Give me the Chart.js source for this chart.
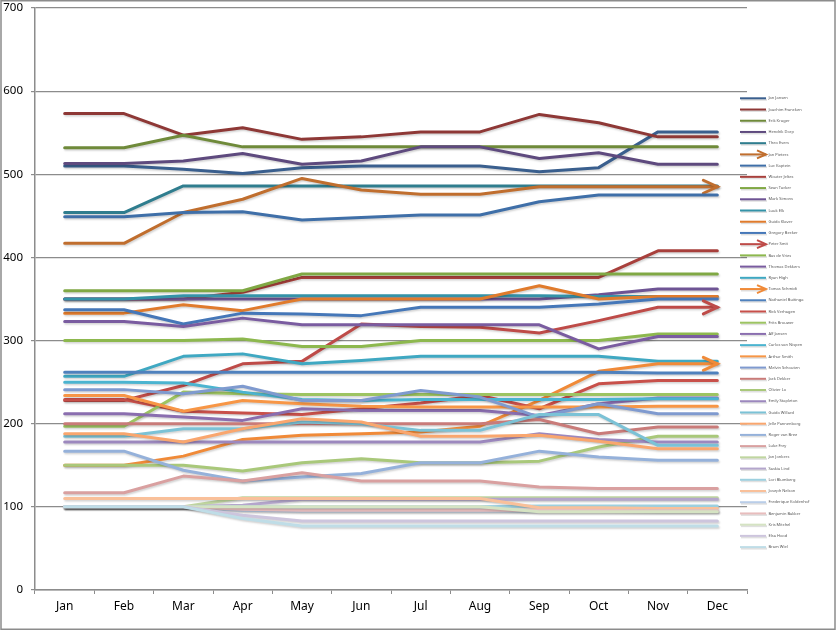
<!DOCTYPE html>
<html>
<head>
<meta charset="utf-8">
<script src="https://cdn.jsdelivr.net/npm/chart.js@4.4.0/dist/chart.umd.min.js"></script>
<style>
  html, body { margin: 0; padding: 0; background: #fff; }
  #chart { display: block; }
</style>
</head>
<body>
<canvas id="chart" width="839" height="631"></canvas>
<script>
// DATA
const months = ["Jan", "Feb", "Mar", "Apr", "May", "Jun", "Jul", "Aug", "Sep", "Oct", "Nov", "Dec"];
const yTicks = [0, 100, 200, 300, 400, 500, 600, 700];

const seriesNames = [
  "Jan Jansen", "Joachim Francken", "Erik Kruger", "Hendrik Dorp", "Theo Evers", "Jan Pieters",
  "Luc Kaptein", "Wouter Jeltes", "Sean Tucker", "Mark Simons", "Luuk Elk", "Guido Klaver",
  "Gregory Becker", "Peter Smit", "Bas de Vries", "Thomas Dekkers", "Ryan High", "Tomas Schmidt",
  "Nathaniel Buitinga", "Rick Verhagen", "Frits Brouwer", "Alf Jansen", "Carlos van Nispen", "Arthur Smith",
  "Melvin Schouten", "Jack Dekker", "Olivier Lo", "Emily Stapleton", "Guido Willard", "Jelle Pannenborg",
  "Roger van Bree", "Luke Frey", "Jan Jonkers", "Saskia Lind", "Lori Blumberg", "Joseph Nelson",
  "Frederique Koldenhof", "Benjamin Bakker", "Kris Mitchel", "Elsa Hood", "Bram Wiel"
];

const s01 = [510, 510, 506, 501, 508, 510, 510, 510, 503, 508, 551, 551];
const s02 = [573, 573, 547, 556, 542, 545, 551, 551, 572, 562, 545, 545];
const s03 = [532, 532, 547, 533, 533, 533, 533, 533, 533, 533, 533, 533];
const s04 = [513, 513, 516, 525, 512, 516, 533, 533, 519, 526, 512, 512];
const s05 = [454, 454, 486, 486, 486, 486, 486, 486, 486, 486, 486, 486];
const s06 = [417, 417, 454, 470, 495, 481, 476, 476, 485, 485, 485, 485];
const s07 = [449, 449, 454, 455, 445, 448, 451, 451, 467, 475, 475, 475];
const s08 = [350, 350, 350, 358, 376, 376, 376, 376, 376, 376, 408, 408];
const s09 = [360, 360, 360, 360, 380, 380, 380, 380, 380, 380, 380, 380];
const s10 = [350, 350, 350, 350, 350, 350, 350, 350, 350, 355, 362, 362];
const s11 = [350, 350, 354, 354, 354, 354, 354, 354, 354, 353, 353, 353];
const s12 = [333, 333, 343, 336, 350, 350, 350, 350, 366, 350, 353, 353];
const s13 = [337, 337, 320, 333, 332, 330, 340, 340, 340, 344, 350, 350];
const s14 = [228, 228, 246, 272, 275, 320, 317, 316, 309, 324, 340, 340];
const s15 = [300, 300, 300, 302, 293, 293, 300, 300, 300, 300, 308, 308];
const s16 = [323, 323, 317, 327, 319, 319, 319, 319, 319, 290, 305, 305];
const s17 = [257, 257, 281, 284, 272, 276, 281, 281, 281, 281, 275, 275];
const s18 = [150, 150, 161, 181, 186, 188, 190, 197, 228, 263, 272, 272];
const s19 = [262, 262, 262, 262, 262, 262, 262, 262, 262, 262, 261, 261];
const s20 = [229, 229, 215, 213, 211, 218, 225, 234, 218, 248, 252, 252];
const s21 = [197, 197, 238, 236, 235, 235, 235, 235, 235, 235, 235, 235];
const s22 = [212, 212, 208, 204, 218, 216, 216, 216, 210, 224, 231, 231];
const s23 = [250, 250, 249, 238, 229, 228, 229, 229, 229, 229, 230, 230];
const s24 = [234, 234, 215, 228, 224, 221, 220, 220, 220, 220, 221, 221];
const s25 = [241, 241, 236, 245, 228, 228, 240, 232, 208, 224, 212, 212];
const s26 = [200, 200, 200, 200, 200, 200, 200, 200, 205, 188, 196, 196];
const s27 = [150, 150, 150, 143, 153, 158, 153, 153, 155, 172, 185, 185];
const s28 = [178, 178, 178, 178, 178, 178, 178, 178, 188, 181, 178, 178];
const s29 = [185, 185, 194, 194, 202, 200, 192, 192, 211, 211, 174, 174];
const s30 = [188, 188, 178, 194, 206, 202, 185, 185, 186, 179, 170, 170];
const s31 = [167, 167, 144, 131, 136, 140, 153, 153, 167, 160, 156, 156];
const s32 = [117, 117, 137, 131, 141, 131, 131, 131, 124, 122, 122, 122];
const s33 = [100, 100, 100, 111, 111, 111, 111, 111, 111, 111, 111, 111];
const s34 = [100, 100, 100, 102, 109, 109, 109, 109, 109, 109, 109, 109];
const s35 = [100, 100, 100, 100, 100, 100, 100, 100, 101, 101, 101, 101];
const s36 = [110, 110, 110, 110, 110, 110, 110, 110, 99, 99, 98, 98];
const s37 = [100, 100, 100, 96, 95, 95, 95, 95, 95, 95, 95, 95];
const s38 = [100, 100, 100, 97, 96, 96, 96, 96, 96, 96, 95, 95];
const s39 = [100, 100, 100, 100, 100, 100, 100, 100, 94, 94, 94, 94];
const s40 = [100, 100, 100, 90, 83, 83, 83, 83, 83, 83, 83, 83];
const s41 = [100, 100, 100, 86, 77, 77, 77, 77, 77, 77, 77, 77];

const seriesValues = [
  s01, s02, s03, s04, s05, s06, s07, s08, s09, s10, s11, s12, s13, s14,
  s15, s16, s17, s18, s19, s20, s21, s22, s23, s24, s25, s26, s27, s28,
  s29, s30, s31, s32, s33, s34, s35, s36, s37, s38, s39, s40, s41
];

// series that end in an arrow head (index into seriesValues)
const arrowSeries = [5, 13, 17];

// STYLE
const colors = [
  "#3a5f8e", "#8e3836", "#6f8a3a", "#5e4a7e", "#2f7d8e", "#c06e2e",
  "#3f6fa8", "#a8403c", "#80a844", "#6e5494", "#3493a8", "#e07b2c",
  "#4577b8", "#be4b48", "#8db84e", "#7a5ca0", "#3fa8c2", "#f08a38",
  "#4f81bd", "#c8504a", "#9dc462", "#8a6eaf", "#4bb4d0", "#f79646",
  "#7f9acf", "#c97b79", "#a9c87a", "#9c88be", "#7bc2d6", "#f9a66e",
  "#95b1da", "#d9a0a0", "#c0d6a0", "#b4a6cc", "#9dd0df", "#f9c09a",
  "#b9cde8", "#e8bdbd", "#d5e3c3", "#cdc5dd", "#bfdde7"
];
const axisGrey = "#8c8c8c";
const fontFamily = "'Noto Sans', 'Open Sans', sans-serif";

function chevron(ctx, x, y, dx, dy) {
  ctx.beginPath();
  ctx.moveTo(x - dx, y - dy);
  ctx.lineTo(x, y);
  ctx.lineTo(x - dx, y + dy);
  ctx.stroke();
}

// frame round the whole picture
const framePlugin = {
  id: "frame",
  beforeDraw(chart) {
    const ctx = chart.ctx;
    ctx.save();
    ctx.fillStyle = "#fff";
    ctx.fillRect(0, 0, chart.width, chart.height);
    ctx.strokeStyle = axisGrey;
    ctx.lineWidth = 1.5;
    ctx.strokeRect(1, 0.75, 834, 628.5);
    ctx.restore();
  }
};

// soft shadow under the lines, arrow heads on the chosen series
const linesPlugin = {
  id: "lineFx",
  beforeDatasetsDraw(chart) {
    const ctx = chart.ctx;
    ctx.save();
    ctx.shadowColor = "rgba(0,0,0,0.18)";
    ctx.shadowBlur = 2;
    ctx.shadowOffsetX = 1;
    ctx.shadowOffsetY = 1.5;
  },
  afterDatasetDraw(chart, args) {
    if (!arrowSeries.includes(args.index)) return;
    const pts = args.meta.data;
    const last = pts[pts.length - 1];
    const ctx = chart.ctx;
    ctx.strokeStyle = colors[args.index];
    ctx.lineWidth = 3;
    ctx.lineJoin = "miter";
    ctx.lineCap = "round";
    chevron(ctx, last.x, last.y, 14, 6.5);
  },
  afterDatasetsDraw(chart) {
    chart.ctx.restore();
  }
};

// small legend on the right, partly over the plot edge
const legendPlugin = {
  id: "sideLegend",
  afterDraw(chart) {
    const ctx = chart.ctx;
    ctx.save();
    ctx.font = "4px " + fontFamily;
    ctx.textBaseline = "middle";
    chart.data.datasets.forEach((ds, i) => {
      const y = 98.3 + i * 11.22;
      ctx.lineCap = "butt";
      ctx.strokeStyle = "rgba(0,0,0,0.12)";
      ctx.lineWidth = 2;
      ctx.beginPath(); ctx.moveTo(741, y + 1.5); ctx.lineTo(767, y + 1.5); ctx.stroke();
      ctx.strokeStyle = ds.borderColor;
      ctx.beginPath(); ctx.moveTo(740, y); ctx.lineTo(766, y); ctx.stroke();
      if (arrowSeries.includes(i)) chevron(ctx, 766, y, 9, 4);
      ctx.fillStyle = "#555";
      ctx.fillText(ds.label, 768.5, y);
    });
    ctx.restore();
  }
};

new Chart(document.getElementById("chart"), {
  type: "line",
  data: {
    labels: months,
    datasets: seriesValues.map((vals, i) => ({
      label: seriesNames[i],
      data: vals,
      borderColor: colors[i],
      backgroundColor: colors[i],
      borderWidth: 3,
      borderJoinStyle: "round",
      borderCapStyle: "round",
      pointRadius: 0,
      tension: 0,
      fill: false,
      order: -i
    }))
  },
  options: {
    responsive: false,
    animation: false,
    devicePixelRatio: 1,
    layout: { padding: { left: 0, right: 92, top: 8, bottom: 0 } },
    plugins: {
      legend: { display: false },
      tooltip: { enabled: false }
    },
    scales: {
      x: {
        offset: true,
        afterFit(s) { s.height = 41; s.paddingLeft = 0; s.paddingRight = 0; },
        grid: { offset: true, drawOnChartArea: false, drawTicks: true, tickLength: 4, color: axisGrey },
        border: { color: axisGrey, width: 1.5 },
        ticks: { color: "#000", padding: 5, font: { family: fontFamily, size: 12 } }
      },
      y: {
        min: yTicks[0],
        max: yTicks[yTicks.length - 1],
        afterFit(s) { s.width = 35; s.paddingTop = 0; s.paddingBottom = 0; },
        afterBuildTicks(s) { s.ticks = yTicks.map(v => ({ value: v })); },
        grid: { color: axisGrey, lineWidth: 1.2, drawTicks: true, tickLength: 4 },
        border: { color: axisGrey, width: 1.5 },
        ticks: { color: "#000", padding: 8, font: { family: fontFamily, size: 11.5 } }
      }
    }
  },
  plugins: [framePlugin, linesPlugin, legendPlugin]
});
</script>
</body>
</html>
